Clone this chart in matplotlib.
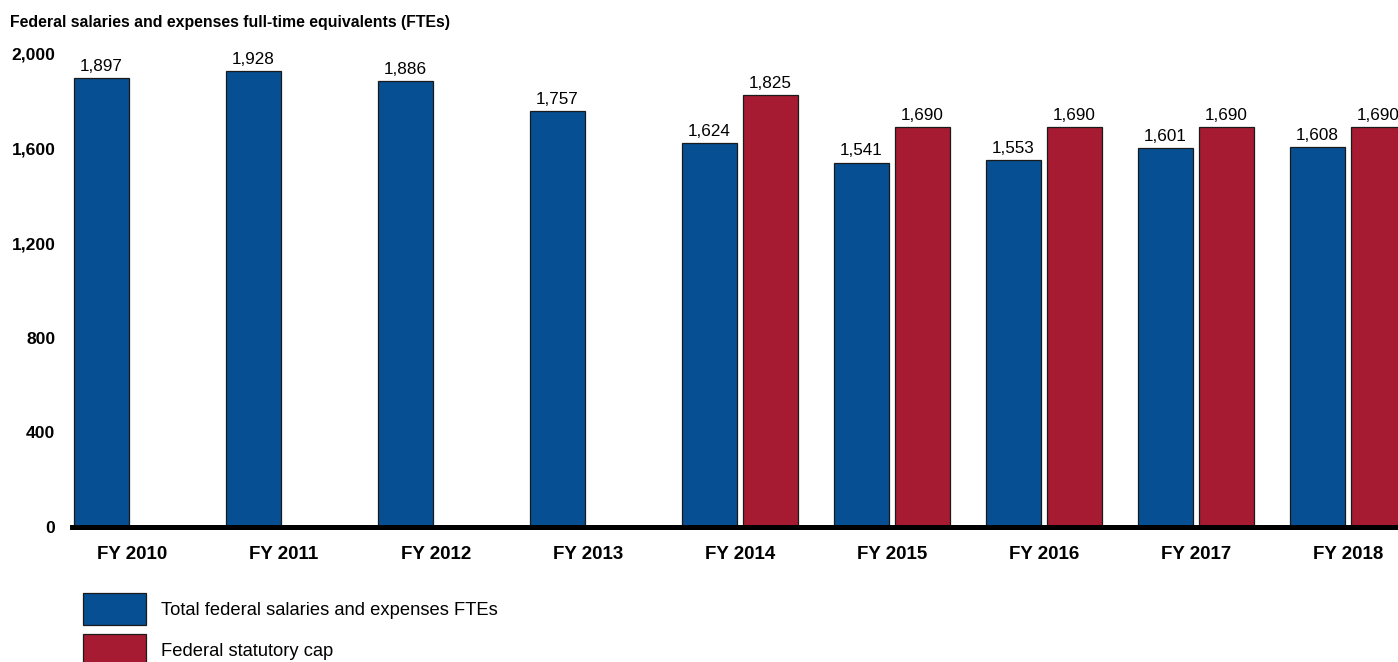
import matplotlib.pyplot as plt
import numpy as np

plt.rcParams['font.family'] = ['Liberation Sans', 'DejaVu Sans']

# data
years = ['FY 2010', 'FY 2011', 'FY 2012', 'FY 2013', 'FY 2014',
         'FY 2015', 'FY 2016', 'FY 2017', 'FY 2018']
total_ftes = [1897, 1928, 1886, 1757, 1624, 1541, 1553, 1601, 1608]
statutory_cap = [np.nan, np.nan, np.nan, np.nan, 1825, 1690, 1690, 1690, 1690]
yticks = [0, 400, 800, 1200, 1600, 2000]

blue = '#054f92'
red = '#a61a32'

W, H = 1398, 662
fig = plt.figure(figsize=(W / 100, H / 100), dpi=100)
ax = fig.add_axes([72 / W, (H - 527) / H, (W - 72) / W, (527 - 54) / H])

x = np.arange(len(years))
bw = 0.362
off = 0.2
b1 = ax.bar(x - off, total_ftes, bw, color=blue, edgecolor='#1a1a1a', linewidth=0.9,
            label='Total federal salaries and expenses FTEs')
b2 = ax.bar(x + off, statutory_cap, bw, color=red, edgecolor='#1a1a1a', linewidth=0.9,
            label='Federal statutory cap')

fmt = lambda v: f'{v:,.0f}'
ax.bar_label(b1, labels=[fmt(v) for v in total_ftes], padding=3, fontsize=12.3, clip_on=False)
ax.bar_label(b2, labels=['' if np.isnan(v) else fmt(v) for v in statutory_cap],
             padding=3, fontsize=12.3, clip_on=False)

ax.set_xlim(-0.395, 8.329)
ax.set_ylim(0, 2000)
ax.set_yticks(yticks)
ax.set_yticklabels([f'{v:,}' for v in yticks], fontsize=12.6, fontweight='bold')
ax.set_xticks(x)
ax.set_xticklabels(years, fontsize=13.5, fontweight='bold')
ax.tick_params(axis='y', length=0, pad=12)
ax.tick_params(axis='x', length=0, pad=14)

for s in ['top', 'right', 'left']:
    ax.spines[s].set_visible(False)
ax.spines['bottom'].set_linewidth(3.6)
ax.spines['bottom'].set_color('black')

fig.text(10 / W, 1 - 22 / H, 'Federal salaries and expenses full-time equivalents (FTEs)',
         fontsize=11.45, fontweight='bold', va='center', ha='left')

fig.legend(handles=[b1, b2], loc='upper left', bbox_to_anchor=(83 / W, 1 - 593 / H),
           frameon=False, fontsize=13.2, handlelength=3.44, handleheight=2.32,
           labelspacing=0.49, handletextpad=0.82, borderpad=0, borderaxespad=0)

fig.savefig('out.png', dpi=100)
